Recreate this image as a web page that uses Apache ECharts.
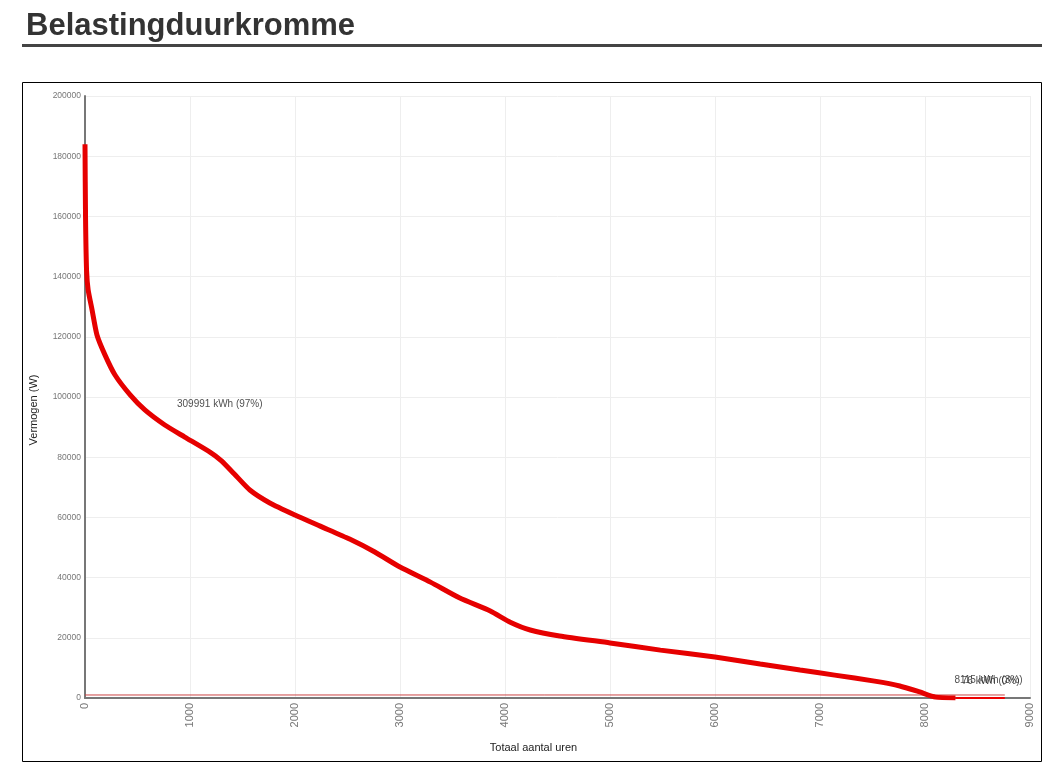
<!DOCTYPE html>
<html>
<head>
<meta charset="utf-8">
<script src="https://cdn.jsdelivr.net/npm/echarts@6/dist/echarts.min.js"></script>
<style>html,body{margin:0;padding:0;background:#fff;}#c{width:1058px;height:769px;}</style>
</head>
<body>
<div id="c"></div>
<script>
var titleText = "Belastingduurkromme";
var xName = "Totaal aantal uren";
var yName = "Vermogen (W)";
var hours = [0, 5, 15, 30, 67, 114, 190, 286, 430, 570, 760, 950, 1190, 1300, 1420, 1570, 1760, 2000, 2240, 2520, 2760, 3000, 3290, 3570, 3860, 4050, 4240, 4520, 5000, 5480, 6000, 6430, 6810, 7140, 7520, 7760, 7950, 8100, 8290];
var power = [184000, 160000, 142000, 135600, 129000, 120600, 114000, 107300, 100700, 95700, 90700, 86700, 81700, 78800, 74500, 69100, 64800, 60800, 57100, 52800, 48500, 43500, 38500, 33200, 28900, 25200, 22600, 20600, 18300, 15900, 13600, 11300, 9300, 7600, 5600, 4000, 2000, 300, 0];
var tailHours = [8290, 8760];
var tailPower = [0, 0];
var baseHours = [0, 8760];
var basePower = [1000, 1000];
var labelTexts = ["309991 kWh (97%)", "8115 kWh (3%)", "76 kWh (0%)"];
var labelPos = [[876, 97700], [8280, 6000], [8350, 5700]];

var chart = echarts.init(document.getElementById('c'));
function pairs(a, b) { return a.map(function (v, i) { return [v, b[i]]; }); }
chart.setOption({
  animation: false,
  title: {
    text: titleText, left: 21, top: 6,
    textStyle: { fontFamily: 'Liberation Sans', fontSize: 31, fontWeight: 'bold', color: '#333' }
  },
  graphic: [
    { type: 'rect', shape: { x: 22, y: 44, width: 1020, height: 3 }, style: { fill: '#444' } },
    { type: 'rect', shape: { x: 22.5, y: 82.5, width: 1019, height: 679 }, style: { fill: 'none', stroke: '#000', lineWidth: 1 } }
  ],
  grid: { left: 85, right: 28, top: 96, bottom: 71 },
  xAxis: {
    type: 'value', min: 0, max: 9000, interval: 1000,
    name: xName, nameLocation: 'middle', nameGap: 44,
    nameTextStyle: { fontFamily: 'Liberation Sans', fontSize: 11, color: '#222', padding: [0, 48, 0, 0] },
    axisLine: { lineStyle: { color: '#777', width: 2 } },
    axisTick: { show: false },
    axisLabel: { rotate: 90, fontFamily: 'Liberation Sans', fontSize: 11, color: '#777', margin: 5,
      formatter: function (v) { return String(v); } },
    splitLine: { lineStyle: { color: '#eee' } }
  },
  yAxis: {
    type: 'value', min: 0, max: 200000, interval: 20000,
    name: yName, nameLocation: 'middle', nameGap: 46,
    nameTextStyle: { fontFamily: 'Liberation Sans', fontSize: 11, color: '#222', padding: [0, 26, 0, 0] },
    axisLine: { show: true, lineStyle: { color: '#777', width: 2 } },
    axisTick: { show: false },
    axisLabel: { fontFamily: 'Liberation Sans', fontSize: 8.5, color: '#777', margin: 4,
      formatter: function (v) { return String(v); } },
    splitLine: { lineStyle: { color: '#eee' } }
  },
  series: [
    {
      type: 'line', data: pairs(baseHours, basePower), symbol: 'none',
      lineStyle: { color: '#c44', width: 1 }, z: 2
    },
    {
      type: 'line', data: pairs(tailHours, tailPower), symbol: 'none',
      lineStyle: { color: '#e00', width: 2 }, z: 3
    },
    {
      type: 'line', data: pairs(hours, power), symbol: 'none', smooth: 0.2,
      lineStyle: { color: '#e60000', width: 5 }, z: 4
    },
    {
      type: 'scatter', symbolSize: 0, z: 5,
      data: labelPos.map(function (p, i) { return { value: p, name: labelTexts[i] }; }),
      label: {
        show: true, position: 'right', distance: 0,
        formatter: function (p) { return p.name; },
        fontFamily: 'Liberation Sans', fontSize: 10, color: '#222'
      }
    }
  ]
});
</script>
</body>
</html>
